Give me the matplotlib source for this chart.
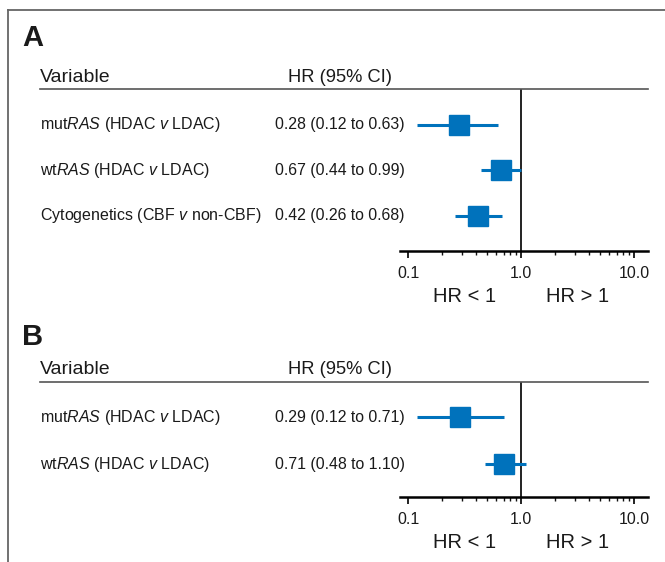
import matplotlib
matplotlib.use("Agg")
import matplotlib.pyplot as plt
import matplotlib.transforms as mtransforms
from matplotlib.lines import Line2D
from matplotlib.ticker import FixedLocator, NullFormatter

plt.rcParams['font.family'] = ['Liberation Sans', 'DejaVu Sans']
plt.rcParams['mathtext.fontset'] = 'custom'
plt.rcParams['mathtext.rm'] = 'Liberation Sans'
plt.rcParams['mathtext.it'] = 'Liberation Sans:italic'
plt.rcParams['mathtext.bf'] = 'Liberation Sans:bold'

# panel A
labels_a = ["mut$\\mathit{RAS}$ (HDAC $\\mathit{v}$ LDAC)",
            "wt$\\mathit{RAS}$ (HDAC $\\mathit{v}$ LDAC)",
            "Cytogenetics (CBF $\\mathit{v}$ non-CBF)"]
hr_a = [0.28, 0.67, 0.42]
lo_a = [0.12, 0.44, 0.26]
hi_a = [0.63, 0.99, 0.68]

# panel B
labels_b = ["mut$\\mathit{RAS}$ (HDAC $\\mathit{v}$ LDAC)",
            "wt$\\mathit{RAS}$ (HDAC $\\mathit{v}$ LDAC)"]
hr_b = [0.29, 0.71]
lo_b = [0.12, 0.48]
hi_b = [0.71, 1.10]

W, H = 665, 562
BLUE = '#0072BC'
TXT = '#1a1a1a'

fig = plt.figure(figsize=(W / 100, H / 100), dpi=100)


def px(x, y):
    return x / W, 1 - y / H


def panel(letter, labels, hr, lo, hi, top_y, line_y, axis_y, row_pad):
    # header texts
    fig.text(*px(22, top_y), letter, fontsize=21, fontweight='bold',
             color=TXT, va='center')
    fig.text(*px(40, line_y - 12), "Variable", fontsize=14, color=TXT, va='center')
    fig.text(*px(288, line_y - 12), "HR (95% CI)", fontsize=13.2, color=TXT, va='center')
    fig.add_artist(Line2D([40 / W, 648 / W], [1 - line_y / H] * 2,
                          color='#555555', lw=1.2))

    ax = fig.add_axes([400 / W, 1 - axis_y / H, 248 / W, (axis_y - line_y) / H])
    n = len(hr)
    ax.set_xscale('log')
    ax.set_xlim(0.0849, 13.3)
    ax.set_ylim(n - 1 + row_pad[1], -row_pad[0])
    ax.patch.set_alpha(0)
    for s in ['top', 'right', 'left']:
        ax.spines[s].set_visible(False)
    ax.spines['bottom'].set_linewidth(1.8)
    ax.axvline(1.0, color='#111111', lw=1.3, zorder=1)

    rows = list(range(n))
    ax.hlines(rows, lo, hi, color=BLUE, lw=2.2, zorder=2)
    ax.plot(hr, rows, 's', color=BLUE, ms=14.5, zorder=3)

    ax.xaxis.set_major_locator(FixedLocator([0.1, 1.0, 10.0]))
    ax.set_xticklabels(['0.1', '1.0', '10.0'])
    minors = [k * 0.1 for k in range(2, 10)] + [k * 1.0 for k in range(2, 10)]
    ax.xaxis.set_minor_locator(FixedLocator(minors))
    ax.xaxis.set_minor_formatter(NullFormatter())
    ax.tick_params(axis='x', which='major', length=5, width=1.3, labelsize=11.5,
                   pad=6, colors='#111111', labelcolor=TXT)
    ax.tick_params(axis='x', which='minor', length=3, width=1.0, colors='#111111')
    ax.set_yticks([])

    # row labels and values, x in figure fraction, y in data units
    tr = mtransforms.blended_transform_factory(fig.transFigure, ax.transData)
    for i in rows:
        fig.text(40 / W, i, labels[i], transform=tr, fontsize=11.5, color=TXT, va='center')
        fig.text(275 / W, i, f"{hr[i]:.2f} ({lo[i]:.2f} to {hi[i]:.2f})",
                 transform=tr, fontsize=11.4, color=TXT, va='center')

    tr2 = mtransforms.blended_transform_factory(ax.transData, fig.transFigure)
    ax.text(10 ** -0.5, 1 - (axis_y + 46) / H, "HR < 1", transform=tr2,
            fontsize=14.5, color=TXT, ha='center', va='center')
    ax.text(10 ** 0.5, 1 - (axis_y + 46) / H, "HR > 1", transform=tr2,
            fontsize=14.5, color=TXT, ha='center', va='center')
    return ax


panel("A", labels_a, hr_a, lo_a, hi_a, 38, 89, 251, (0.79, 0.77))
panel("B", labels_b, hr_b, lo_b, hi_b, 337, 382, 497, (0.75, 0.70))

# outer frame: top and left edges
fig.add_artist(Line2D([8 / W, 1.0], [1 - 10 / H] * 2, color='#666666', lw=1.3))
fig.add_artist(Line2D([8 / W, 8 / W], [0.0, 1 - 10 / H], color='#666666', lw=1.3))

fig.savefig("out.png", dpi=100)
